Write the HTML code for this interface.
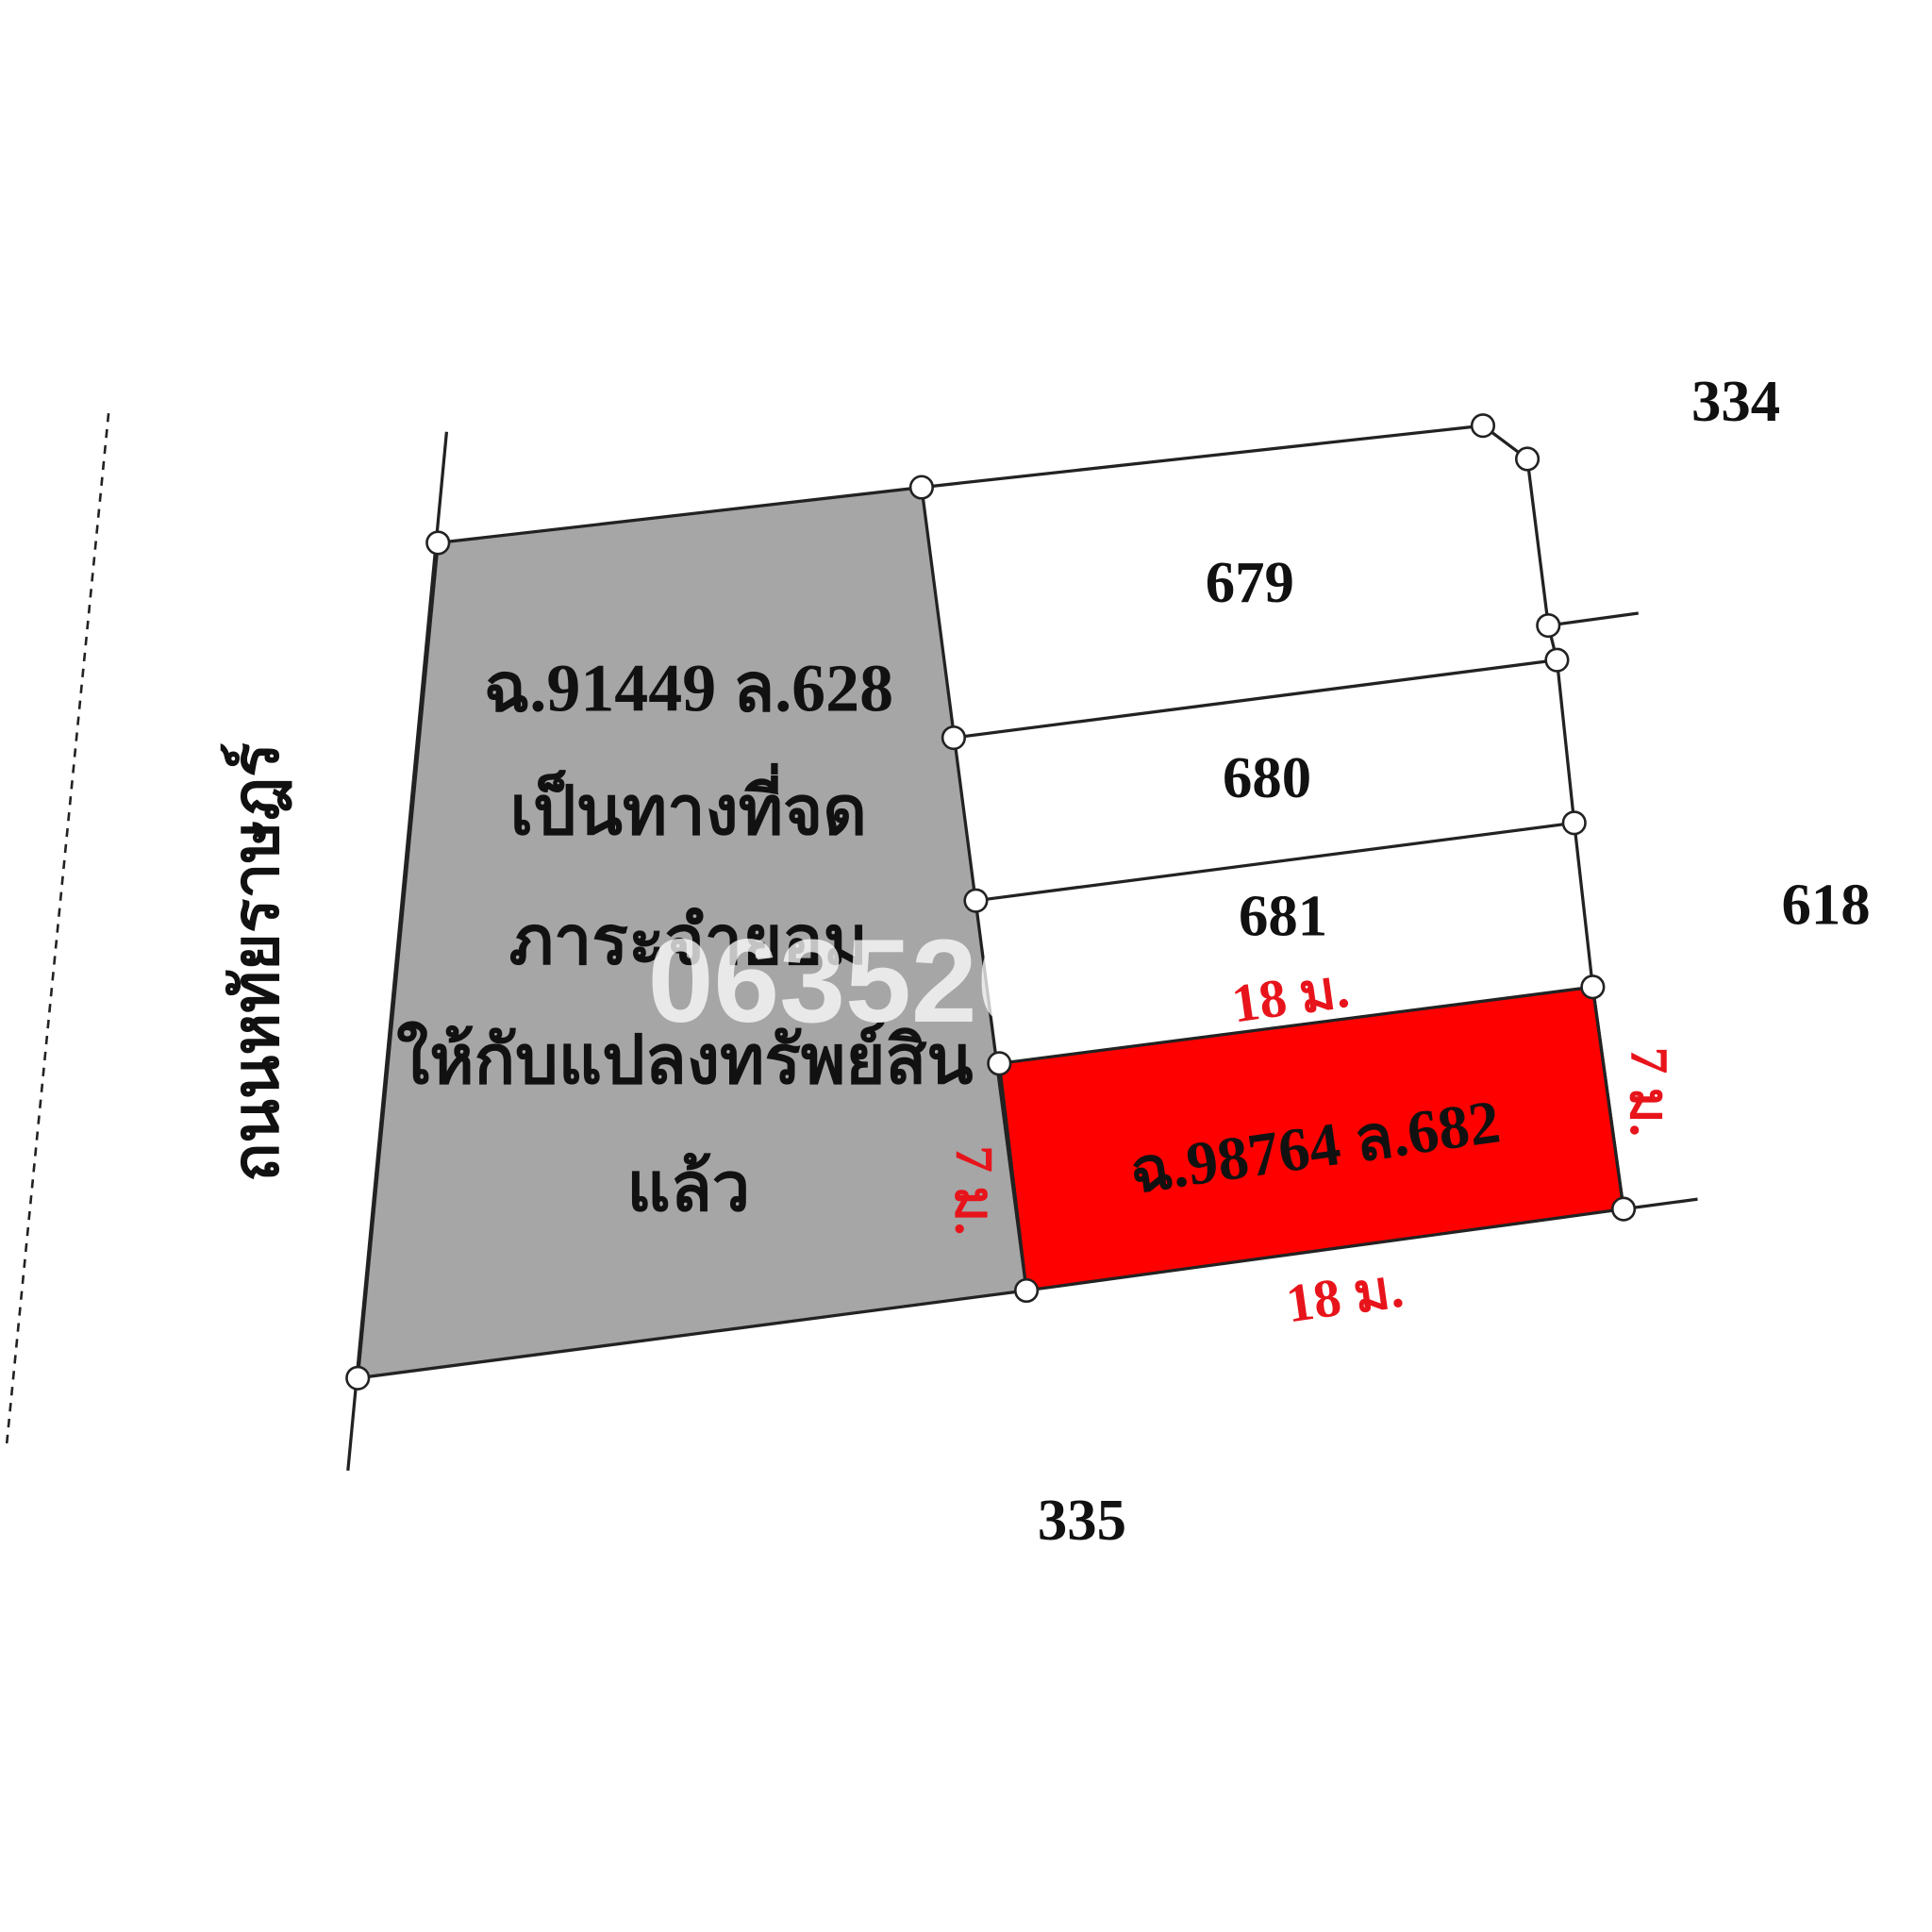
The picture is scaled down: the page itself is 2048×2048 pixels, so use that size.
<!DOCTYPE html>
<html><head><meta charset="utf-8"><style>
html,body{margin:0;padding:0;background:#fff;}
svg{display:block}
text{font-family:"Liberation Serif","Noto Serif CJK SC",serif;font-weight:bold;}
</style></head><body>
<svg width="2048" height="2048" viewBox="0 0 1566 1566" xmlns="http://www.w3.org/2000/svg">
<rect width="1566" height="1566" fill="#fff"/>
<line x1="88" y1="335" x2="5" y2="1175" stroke="#222" stroke-width="2" stroke-dasharray="7,6"/>
<line x1="362" y1="350" x2="282" y2="1192" stroke="#222" stroke-width="2.5"/>
<polygon points="355,440 747,395 832,1046 290,1117" fill="#a6a6a6" stroke="#222" stroke-width="2.5"/>
<polygon points="810,862 1291,800 1316,980 832,1046" fill="#ff0000" stroke="#222" stroke-width="2.5"/>
<g stroke="#222" stroke-width="2.5" fill="none">
<polyline points="747,395 1202,345 1238,372 1255,507 1262,535 1276,667 1291,800 1316,980"/>
<line x1="1255" y1="507" x2="1328" y2="497"/>
<line x1="1316" y1="980" x2="1376" y2="972"/>
<line x1="773" y1="598" x2="1262" y2="535"/>
<line x1="791" y1="730" x2="1276" y2="667"/>
</g>
<g fill="#fff" stroke="#222" stroke-width="2">
<circle cx="355" cy="440" r="9"/><circle cx="747" cy="395" r="9"/><circle cx="1202" cy="345" r="9"/>
<circle cx="1238" cy="372" r="9"/><circle cx="1255" cy="507" r="9"/><circle cx="1262" cy="535" r="9"/>
<circle cx="773" cy="598" r="9"/><circle cx="1276" cy="667" r="9"/><circle cx="791" cy="730" r="9"/>
<circle cx="1291" cy="800" r="9"/><circle cx="810" cy="862" r="9"/><circle cx="1316" cy="980" r="9"/>
<circle cx="832" cy="1046" r="9"/><circle cx="290" cy="1117" r="9"/>
</g>
<g font-size="48" fill="#111" text-anchor="middle">
<text x="1407" y="341">334</text>
<text x="1480" y="749">618</text>
<text x="877" y="1248">335</text>
<text x="1013" y="488">679</text>
<text x="1027" y="646">680</text>
<text x="1040" y="758">681</text>
<g font-size="55">
<text x="558" y="576">ฉ.91449 ล.628</text>
<text x="558" y="676">เป็นทางที่จด</text>
<text x="558" y="781">ภาระจำยอม</text>
<text x="555" y="878">ให้กับแปลงทรัพย์สิน</text>
<text x="558" y="981">แล้ว</text>
</g>
<text transform="translate(1068,946) rotate(-8)" font-size="50">ฉ.98764 ล.682</text>
<text transform="translate(225,780) rotate(-90)" font-size="52">ถนนหทัยราษฎร์</text>
</g>
<text x="525" y="828" font-size="96" fill="#fff" fill-opacity="0.75" style="font-family:'Liberation Sans',sans-serif">063520</text>
<g font-size="44" fill="#e8141b" text-anchor="middle">
<text transform="translate(1048,822) rotate(-8)">18 ม.</text>
<text transform="translate(1092,1065) rotate(-8)">18 ม.</text>
<text transform="translate(775,965) rotate(90)">7 ม.</text>
<text transform="translate(1322,885) rotate(90)">7 ม.</text>
</g>
</svg>
</body></html>
